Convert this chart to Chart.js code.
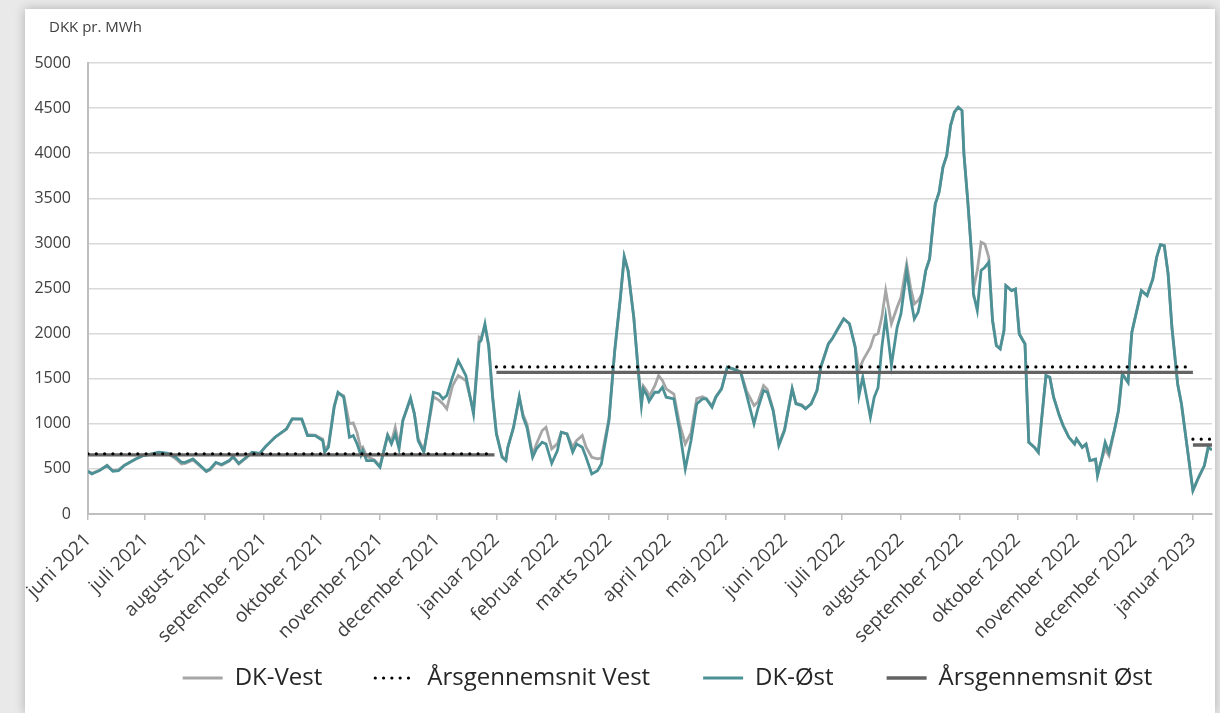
<!DOCTYPE html>
<html lang="da">
<head>
<meta charset="utf-8">
<title>Elpris DK-Vest og DK-Øst</title>
<script src="https://cdn.jsdelivr.net/npm/chart.js@4.4.1/dist/chart.umd.min.js"></script>
<style>
    html, body { margin: 0; padding: 0; background: #e9e9e9; overflow: hidden; }
    body { width: 1220px; height: 713px; position: relative; }
    .kort {
        position: absolute; left: 25px; top: 9px; width: 1190px; height: 704px;
        background: #fff; box-shadow: 0 0 10px rgba(0, 0, 0, 0.25);
    }
</style>
</head>
<body>
<div class="kort"><canvas id="chart-pris"></canvas></div>
<script>
'use strict';

// Dage efter 1. juni 2021 (glidende gennemsnit)
const dage = [
    0, 2, 6, 10, 13, 16, 19, 22, 25, 29,
    32, 37, 42, 46, 49, 51, 55, 58, 62, 64,
    67, 70, 74, 76, 79, 83, 86, 90, 93, 98,
    104, 107, 112, 115, 119, 123, 124, 126, 129, 131,
    134, 137, 139, 141, 143, 144, 146, 150, 153, 157,
    159, 161, 163, 165, 169, 171, 173, 176, 178, 181,
    184, 186, 188, 191, 194, 198, 202, 205, 206, 208,
    210, 212, 214, 217, 219, 220, 223, 226, 228, 230,
    233, 235, 238, 240, 243, 246, 248, 251, 254, 256,
    259, 261, 264, 267, 269, 273, 276, 279, 281, 283,
    286, 288, 290, 291, 293, 294, 297, 299, 301, 303,
    307, 310, 313, 316, 319, 322, 324, 327, 329, 332,
    335, 338, 342, 345, 349, 351, 354, 356, 359, 362,
    365, 369, 371, 374, 376, 379, 382, 384, 388, 390,
    393, 396, 399, 402, 404, 406, 410, 412, 414, 416,
    418, 421, 424, 426, 429, 431, 433, 435, 437, 439,
    441, 443, 444, 446, 448, 450, 452, 454, 456, 458,
    459, 461, 463, 464, 466, 468, 470, 472, 474, 476,
    478, 480, 481, 484, 486, 488, 491, 493, 496, 498,
    500, 502, 504, 506, 509, 511, 514, 517, 518, 521,
    523, 525, 528, 529, 531, 533, 535, 538, 540, 542,
    545, 547, 549, 552, 555, 558, 560, 562, 564, 566,
    568, 571, 573, 576, 579, 582, 585, 587, 589
];

const dkVest = [
    475, 450, 485, 540, 480, 490, 540, 575, 610, 650,
    660, 680, 670, 610, 555, 560, 600, 545, 470, 490,
    565, 540, 585, 630, 555, 625, 680, 670, 745, 850,
    940, 1055, 1050, 880, 875, 830, 720, 760, 1200, 1340,
    1310, 1000, 1010, 900, 720, 740, 640, 600, 530, 880,
    800, 960, 760, 1040, 1270, 1120, 840, 700, 930, 1300,
    1260, 1221, 1165, 1420, 1535, 1480, 1150, 1960, 1950, 2080,
    1880, 1320, 900, 640, 600, 740, 960, 1290, 1100, 1000,
    660, 777, 925, 962, 722, 780, 907, 888, 740, 814,
    870, 740, 629, 611, 620, 1060, 1800, 2400, 2850, 2700,
    2180, 1680, 1250, 1420, 1360, 1300, 1420, 1535, 1480, 1387,
    1330, 999, 777, 900, 1280, 1300, 1280, 1200, 1300, 1390,
    1627, 1609, 1580, 1369, 1202, 1240, 1424, 1380, 1160, 780,
    940, 1390, 1230, 1210, 1170, 1225, 1370, 1630, 1890, 1945,
    2060, 2165, 2110, 1860, 1591, 1700, 1850, 1980, 2000, 2183,
    2479, 2109, 2292, 2400, 2773, 2514, 2329, 2366, 2440, 2699,
    2828, 3253, 3438, 3568, 3845, 3974, 4307, 4455, 4510, 4473,
    3993, 3475, 2884, 2500, 2699, 3013, 2990, 2847, 2150, 1867,
    1830, 2033, 2532, 2477, 2495, 1996, 1885, 795, 739, 684,
    1109, 1534, 1516, 1294, 1091, 980, 850, 776, 832, 739,
    776, 592, 600, 440, 592, 720, 647, 943, 1146, 1553,
    1460, 2015, 2200, 2477, 2422, 2606, 2847, 2987, 2976, 2662,
    2070, 1442, 1220, 739, 259, 407, 536, 739, 710
];

const dkOst = [
    475, 444, 481, 537, 474, 481, 537, 573, 610, 648,
    659, 685, 673, 629, 573, 573, 610, 555, 474, 500,
    573, 548, 592, 636, 562, 629, 685, 673, 747, 851,
    944, 1055, 1055, 870, 870, 814, 685, 740, 1184, 1350,
    1295, 851, 870, 777, 650, 703, 592, 592, 518, 870,
    777, 888, 722, 1036, 1288, 1110, 814, 685, 944, 1350,
    1332, 1276, 1313, 1517, 1702, 1535, 1110, 1905, 1924, 2109,
    1850, 1295, 888, 629, 592, 740, 962, 1302, 1073, 962,
    629, 722, 796, 777, 562, 703, 907, 888, 685, 777,
    740, 629, 444, 481, 555, 1036, 1812, 2403, 2854, 2699,
    2181, 1664, 1201, 1386, 1312, 1250, 1350, 1350, 1405, 1295,
    1276, 925, 500, 814, 1221, 1276, 1276, 1184, 1295, 1387,
    1627, 1609, 1572, 1332, 999, 1165, 1369, 1350, 1147, 759,
    925, 1387, 1221, 1202, 1165, 1221, 1369, 1628, 1887, 1942,
    2053, 2164, 2109, 1850, 1313, 1517, 1073, 1295, 1400, 1850,
    2183, 1650, 2070, 2218, 2700, 2400, 2163, 2237, 2440, 2699,
    2828, 3253, 3438, 3568, 3845, 3974, 4307, 4455, 4510, 4473,
    3993, 3475, 2884, 2440, 2255, 2699, 2736, 2791, 2144, 1867,
    1830, 2033, 2532, 2477, 2495, 1996, 1885, 795, 739, 684,
    1109, 1534, 1516, 1294, 1091, 980, 850, 776, 832, 739,
    776, 592, 610, 425, 592, 795, 684, 943, 1146, 1553,
    1460, 2015, 2200, 2477, 2422, 2606, 2847, 2987, 2976, 2662,
    2070, 1442, 1220, 739, 259, 407, 536, 739, 710
];

// Årsgennemsnit: 2021 (jun-dec), 2022, 2023 (jan)
const periodeStart = [0, 214, 579];
const periodeSlut = [213, 579, 589];
const snitVest = [668, 1630, 830];
const snitOst = [655, 1570, 765];

const maaneder = [
    'juni 2021', 'juli 2021', 'august 2021', 'september 2021', 'oktober 2021',
    'november 2021', 'december 2021', 'januar 2022', 'februar 2022', 'marts 2022',
    'april 2022', 'maj 2022', 'juni 2022', 'juli 2022', 'august 2022',
    'september 2022', 'oktober 2022', 'november 2022', 'december 2022', 'januar 2023'
];

const startDato = Date.UTC(2021, 5, 1);
const maanedStart = maaneder.map((_, i) => (Date.UTC(2021, 5 + i, 1) - startDato) / 86400000);

const farver = {
    vest: '#a6a6a6',
    ost: '#4c9196',
    snitVest: '#000000',
    snitOst: '#636363',
    tekst: '#404040',
    gitter: '#d9d9d9',
    akse: '#bfbfbf'
};

function serie(vaerdier) {
    return dage.map((d, i) => ({ x: d, y: vaerdier[i] }));
}

function aarsLinje(niveauer) {
    const punkter = [];
    niveauer.forEach((v, i) => {
        punkter.push({ x: periodeStart[i], y: v }, { x: periodeSlut[i], y: v }, { x: periodeSlut[i], y: null });
    });
    return punkter;
}

// flytter titel og legende, så de står som i originalen,
// og giver x-aksens skrå etiketter plads nedad
const forskydning = {
    id: 'forskydning',
    afterLayout(chart, args, opts) {
        const lg = chart.legend;
        if (lg) {
            lg.left += opts.legendX;
            lg.right += opts.legendX;
            lg.top += opts.legendY;
            lg.bottom += opts.legendY;
        }
        const tb = chart.titleBlock;
        if (tb) {
            tb.left += opts.titelX;
            tb.right += opts.titelX;
        }
        chart.scales.x.bottom += opts.etiketPlads;
    }
};

Chart.defaults.font.family = "'Open Sans', 'Noto Sans', sans-serif";
Chart.defaults.color = farver.tekst;

const ctx = document.getElementById('chart-pris').getContext('2d');
new Chart(ctx, {
    type: 'line',
    data: {
        datasets: [
            {
                label: 'DK-Vest',
                data: serie(dkVest),
                borderColor: farver.vest,
                borderWidth: 2.8,
                pointRadius: 0,
                order: 4
            },
            {
                label: 'Årsgennemsnit Vest',
                data: aarsLinje(snitVest),
                borderColor: farver.snitVest,
                borderWidth: 3.2,
                borderDash: [0, 8.3],
                borderCapStyle: 'round',
                pointRadius: 0,
                spanGaps: false,
                order: 1
            },
            {
                label: 'DK-Øst',
                data: serie(dkOst),
                borderColor: farver.ost,
                borderWidth: 2.8,
                pointRadius: 0,
                order: 3
            },
            {
                label: 'Årsgennemsnit Øst',
                data: aarsLinje(snitOst),
                borderColor: farver.snitOst,
                borderWidth: 3.4,
                pointRadius: 0,
                spanGaps: false,
                order: 2
            }
        ]
    },
    options: {
        responsive: true,
        maintainAspectRatio: false,
        animation: false,
        layout: { padding: { left: 0, right: 3, top: 0, bottom: 0 } },
        scales: {
            x: {
                type: 'linear',
                min: 0,
                max: 589,
                afterBuildTicks: (axis) => { axis.ticks = maanedStart.map(v => ({ value: v })); },
                afterFit: (axis) => {
                    axis.height = 112;
                    axis.paddingLeft = 0;
                    axis.paddingRight = 0;
                },
                ticks: {
                    autoSkip: false,
                    minRotation: 45,
                    maxRotation: 45,
                    padding: 9,
                    font: { size: 19 },
                    callback: (val, i) => maaneder[i]
                },
                grid: { drawOnChartArea: false, drawTicks: true, tickLength: 6, color: farver.akse, lineWidth: 1.5 },
                border: { color: farver.akse, width: 2 }
            },
            y: {
                min: 0,
                max: 5000,
                afterFit: (axis) => { axis.width = 63; },
                ticks: { stepSize: 500, padding: 17, font: { size: 16 }, callback: (val) => String(val) },
                grid: { color: farver.gitter, lineWidth: 1.5, drawTicks: false },
                border: { color: farver.akse, width: 2 }
            }
        },
        plugins: {
            title: {
                display: true,
                text: 'DKK pr. MWh',
                align: 'start',
                color: farver.tekst,
                font: { size: 15, weight: 'normal' },
                padding: { top: 10, bottom: 26 }
            },
            legend: {
                position: 'bottom',
                labels: {
                    usePointStyle: true,
                    pointStyleWidth: 40,
                    padding: 53,
                    color: '#262626',
                    font: { size: 24 },
                    generateLabels: (chart) => chart.data.datasets.map((ds, i) => ({
                        text: ds.label,
                        datasetIndex: i,
                        fillStyle: ds.borderColor,
                        strokeStyle: ds.borderColor,
                        fontColor: '#262626',
                        lineWidth: ds.borderWidth,
                        lineDash: ds.borderDash || [],
                        lineCap: ds.borderCapStyle || 'butt',
                        pointStyle: 'line',
                        hidden: false
                    }))
                }
            },
            tooltip: { enabled: false },
            forskydning: { legendX: 49, legendY: -13, titelX: 24, etiketPlads: 40 }
        }
    },
    plugins: [forskydning]
});
</script>
</body>
</html>
